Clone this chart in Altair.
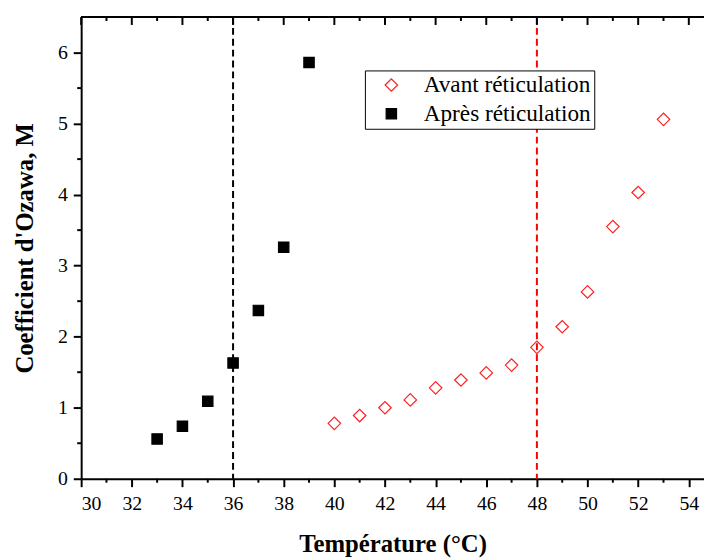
import altair as alt
import pandas as pd

AVANT = "Avant réticulation"
APRES = "Après réticulation"

temp_apres = [33, 34, 35, 36, 37, 38, 39]
m_apres = [0.56, 0.74, 1.09, 1.63, 2.37, 3.26, 5.86]

temp_avant = [40, 41, 42, 43, 44, 45, 46, 47, 48, 49, 50, 51, 52, 53]
m_avant = [0.78, 0.89, 1.00, 1.11, 1.28, 1.39, 1.49, 1.60, 1.85, 2.14, 2.63, 3.55, 4.03, 5.06]

vlines_x = [36, 48]
vlines_color = ["black", "red"]

x_major = list(range(30, 55, 2))
x_minor = list(range(31, 55, 2))
y_major = [0, 1, 2, 3, 4, 5, 6]
y_minor = [0.5, 1.5, 2.5, 3.5, 4.5, 5.5]

df = pd.DataFrame({
    "T": temp_avant + temp_apres,
    "M": m_avant + m_apres,
    "series": [AVANT] * len(temp_avant) + [APRES] * len(temp_apres),
})
df_lines = pd.DataFrame({"T": vlines_x, "c": vlines_color})
df_xmaj = pd.DataFrame({"T": x_major})
df_xmin = pd.DataFrame({"T": x_minor})
df_ymin = pd.DataFrame({"M": y_minor})

FONT = "Liberation Serif"
W, H = 630, 467
xs = alt.Scale(domain=[30, 54.6], nice=False, zero=False)
ys = alt.Scale(domain=[0, 6.5], nice=False)

x_axis = alt.Axis(
    values=x_major, format="d", tickSize=8,
    title="Température (°C)",
    labelPadding=7, titlePadding=19,
)
y_axis = alt.Axis(
    values=y_major, format="d", tickSize=8,
    title="Coefficient d'Ozawa, M",
    labelPadding=6, titlePadding=20,
)

dom = [AVANT, APRES]
legend = alt.Legend(
    title=None, orient="none", legendX=287, legendY=54,
    strokeColor="black", fillColor="white", padding=3,
    labelFont=FONT, labelFontSize=23.5, labelColor="black",
    labelOffset=21, symbolOffset=12, rowPadding=4, labelLimit=300,
    symbolStrokeWidth=1.2,
)

points = alt.Chart(df).mark_point(strokeWidth=1.2, opacity=1).encode(
    x=alt.X("T:Q", scale=xs, axis=x_axis),
    y=alt.Y("M:Q", scale=ys, axis=y_axis),
    shape=alt.Shape("series:N", scale=alt.Scale(domain=dom, range=["diamond", "square"]), legend=legend),
    stroke=alt.Stroke("series:N", scale=alt.Scale(domain=dom, range=["#ff2020", "black"]), legend=legend),
    fill=alt.Fill("series:N", scale=alt.Scale(domain=dom, range=["rgba(255,255,255,0)", "black"]), legend=legend),
    size=alt.Size("series:N", scale=alt.Scale(domain=dom, range=[160, 110]), legend=legend),
)

vlines = alt.Chart(df_lines).mark_rule(strokeDash=[7, 4], strokeWidth=2).encode(
    x=alt.X("T:Q", scale=xs),
    color=alt.Color("c:N", scale=None),
)

top_border = alt.Chart(df_xmaj).mark_rule(color="black", strokeWidth=2).encode(
    x=alt.value(0), x2=alt.value(W), y=alt.value(0)
)
top_major = alt.Chart(df_xmaj).mark_rule(color="black", strokeWidth=2).encode(
    x=alt.X("T:Q", scale=xs), y=alt.value(0), y2=alt.value(8)
)
top_minor = alt.Chart(df_xmin).mark_rule(color="black", strokeWidth=2).encode(
    x=alt.X("T:Q", scale=xs), y=alt.value(0), y2=alt.value(4)
)
bottom_minor = alt.Chart(df_xmin).mark_rule(color="black", strokeWidth=2).encode(
    x=alt.X("T:Q", scale=xs), y=alt.value(H), y2=alt.value(H + 4)
)
left_minor = alt.Chart(df_ymin).mark_rule(color="black", strokeWidth=2).encode(
    y=alt.Y("M:Q", scale=ys), x=alt.value(-4), x2=alt.value(0)
)

chart = alt.layer(
    vlines, top_border, top_major, top_minor, bottom_minor, left_minor, points
).properties(
    width=W, height=H,
    autosize=alt.AutoSizeParams(type="none"),
    padding={"left": 74, "top": 6, "right": 0, "bottom": 77},
).configure_view(stroke=None).configure_axis(
    domainColor="black", domainWidth=2, tickColor="black", tickWidth=2,
    labelFont=FONT, labelFontSize=20, labelColor="black",
    titleFont=FONT, titleFontSize=25, titleFontWeight="bold", titleColor="black",
    grid=False,
)

chart.save("out.html", embed_options={"renderer": "svg", "actions": False})
